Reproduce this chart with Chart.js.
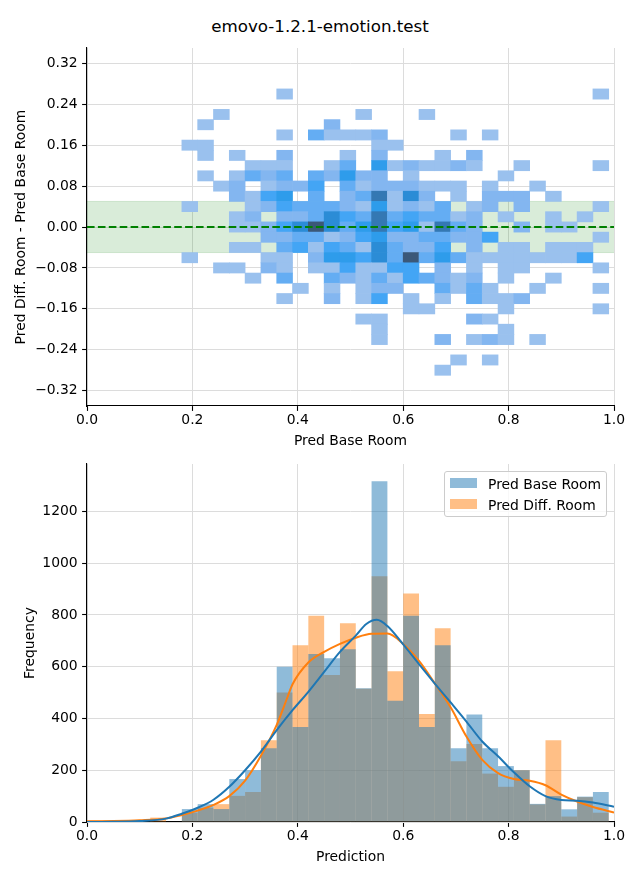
<!DOCTYPE html>
<html>
<head>
<meta charset="utf-8">
<script src="https://cdn.jsdelivr.net/npm/chart.js@4.4.0/dist/chart.umd.min.js"></script>
<style>
html,body{margin:0;padding:0;background:#fff;}
body{width:640px;height:880px;position:relative;overflow:hidden;font-family:"DejaVu Sans",sans-serif;color:#000;}
#title{position:absolute;left:0;top:16px;width:640px;text-align:center;font-size:16.7px;line-height:20px;}
#c1{position:absolute;left:0;top:0;}
#c2{position:absolute;left:0;top:450px;}
#legend{position:absolute;left:444px;top:471px;width:163px;height:46px;box-sizing:border-box;border:1px solid #cccccc;border-radius:3px;background:rgba(255,255,255,0.8);font-size:13.9px;}
.sw{position:absolute;left:5px;width:27px;height:10px;}
.lt{position:absolute;left:43px;line-height:16px;white-space:nowrap;}
</style>
</head>
<body>
<div id="title">emovo-1.2.1-emotion.test</div>
<canvas id="c1" width="640" height="450"></canvas>
<canvas id="c2" width="640" height="430"></canvas>
<div id="legend">
  <div class="sw" style="top:6px;background:rgba(31,119,180,0.5)"></div>
  <div class="lt" style="top:4px">Pred Base Room</div>
  <div class="sw" style="top:27px;background:rgba(255,127,14,0.5)"></div>
  <div class="lt" style="top:24.5px">Pred Diff. Room</div>
</div>
<script>
// ---------- DATA ----------
const xTicks = [0, 0.2, 0.4, 0.6, 0.8, 1.0];
const heatYTicks = [-0.32, -0.24, -0.16, -0.08, 0, 0.08, 0.16, 0.24, 0.32];
const freqTicks = [0, 200, 400, 600, 800, 1000, 1200];

// 2D histogram: column centers (Pred Base Room), row centers (difference), counts level per cell
const heatXCenters = [0.195,0.225,0.255,0.285,0.315,0.345,0.375,0.405,0.435,0.465,0.495,0.525,0.555,0.585,0.615,0.645,0.675,0.705,0.735,0.765,0.795,0.825,0.855,0.885,0.915,0.945,0.975];
const heatYCenters = [0.26,0.24,0.22,0.20,0.18,0.16,0.14,0.12,0.10,0.08,0.06,0.04,0.02,0.00,-0.02,-0.04,-0.06,-0.08,-0.10,-0.12,-0.14,-0.16,-0.18,-0.20,-0.22,-0.24,-0.26,-0.28];
const heatYBinHeight = 0.02;
const heatCounts = [
  [0,0,0,0,0,0,1,0,0,0,0,0,0,0,0,0,0,0,0,0,0,0,0,0,0,0,1],
  [0,0,0,0,0,0,0,0,0,0,0,0,0,0,0,0,0,0,0,0,0,0,0,0,0,0,0],
  [0,0,1,0,0,0,0,0,0,0,0,1,0,0,0,1,0,0,0,0,0,0,0,0,0,0,0],
  [0,1,0,0,0,0,0,0,0,2,0,0,0,0,0,0,0,0,0,0,0,0,0,0,0,0,0],
  [0,0,0,0,0,0,1,0,3,1,1,1,2,0,0,0,0,1,0,1,0,0,0,0,0,0,0],
  [1,1,0,0,0,0,0,0,0,0,0,0,1,1,0,0,0,0,0,0,0,0,0,0,0,0,0],
  [0,1,0,1,0,0,2,0,0,0,1,0,2,0,0,0,1,0,2,0,0,0,0,0,0,0,0],
  [0,0,0,0,1,1,1,0,0,1,3,0,5,1,2,1,1,2,1,0,0,1,0,0,0,0,1],
  [0,1,0,1,3,2,3,0,3,2,5,2,2,0,1,0,0,0,0,0,1,0,0,0,0,0,0],
  [0,0,1,2,0,1,2,2,4,0,3,1,2,2,2,1,1,1,0,1,0,0,1,0,0,0,0],
  [0,0,0,2,1,4,5,0,3,0,2,3,7,1,6,2,0,1,0,2,2,2,0,1,0,0,0],
  [1,0,0,0,1,2,4,3,3,3,2,1,5,1,2,1,3,0,1,2,0,2,0,0,0,0,1],
  [0,0,0,1,2,0,2,2,3,6,4,3,7,3,4,3,3,1,2,0,1,0,0,1,0,1,0],
  [0,0,0,1,1,2,4,6,8,6,3,5,7,4,5,1,7,3,2,0,0,2,0,1,1,0,0],
  [0,0,0,0,0,2,2,3,3,1,2,4,5,2,2,3,3,2,2,4,0,0,0,0,0,0,1],
  [0,0,0,1,1,0,3,4,1,4,3,1,6,3,2,2,4,0,2,0,1,1,0,1,1,1,0],
  [1,0,0,0,0,1,1,0,2,5,5,4,6,3,8,3,5,3,1,1,1,1,1,1,1,4,0],
  [0,0,1,1,0,2,1,0,1,1,4,1,1,4,4,0,2,0,1,0,1,1,0,0,0,0,1],
  [0,0,0,0,1,0,3,0,0,3,2,1,3,1,4,3,2,1,2,0,1,0,0,1,0,0,0],
  [0,0,0,0,0,0,0,1,0,1,0,1,2,2,0,0,3,1,3,1,0,0,1,0,0,0,1],
  [0,0,0,0,0,0,1,0,0,2,0,1,4,0,1,0,1,0,3,1,1,2,0,0,0,0,0],
  [0,0,0,0,0,0,0,0,0,0,0,0,0,0,1,1,0,0,0,0,1,0,0,0,0,0,1],
  [0,0,0,0,0,0,0,0,0,0,0,1,1,0,0,0,0,0,2,1,0,0,0,0,0,0,0],
  [0,0,0,0,0,0,0,0,0,0,0,0,1,0,0,0,0,0,0,0,1,0,0,0,0,0,0],
  [0,0,0,0,0,0,0,0,0,0,0,0,1,0,0,0,2,0,1,2,1,0,1,0,0,0,0],
  [0,0,0,0,0,0,0,0,0,0,0,0,0,0,0,0,0,0,0,0,0,0,0,0,0,0,0],
  [0,0,0,0,0,0,0,0,0,0,0,0,0,0,0,0,0,1,0,1,0,0,0,0,0,0,0],
  [0,0,0,0,0,0,0,0,0,0,0,0,0,0,0,0,1,0,0,0,0,0,0,0,0,0,0]
];
const bandHalfWidth = 0.05;

// 1D histograms (shared bins of width 0.03 from 0 to 0.99)
const histBinCenters = [0.015,0.045,0.075,0.105,0.135,0.165,0.195,0.225,0.255,0.285,0.315,0.345,0.375,0.405,0.435,0.465,0.495,0.525,0.555,0.585,0.615,0.645,0.675,0.705,0.735,0.765,0.795,0.825,0.855,0.885,0.915,0.945,0.975];
const histBase = [0,0,0,0,0,0,50,69,50,166,200,285,600,367,649,633,667,517,1316,468,797,367,683,285,415,285,216,200,70,100,49,98,116];
const histDiff = [6,6,2,2,17,2,36,55,69,101,116,316,500,683,797,568,768,515,949,582,883,417,748,235,301,187,136,200,68,316,21,96,36];

// KDE curves
const kdeBaseX = [0,0.05,0.10,0.15,0.18,0.21,0.24,0.27,0.30,0.33,0.36,0.39,0.42,0.45,0.48,0.51,0.53,0.55,0.57,0.60,0.63,0.66,0.69,0.72,0.75,0.78,0.81,0.84,0.87,0.90,0.93,0.96,1.00];
const kdeBaseY = [0,1,4,13,32,55,86,136,200,272,355,432,503,580,657,720,765,781,757,686,610,535,462,388,311,254,192,138,100,85,82,75,59];
const kdeDiffX = [0,0.05,0.10,0.15,0.18,0.21,0.24,0.27,0.30,0.33,0.36,0.38,0.39,0.42,0.45,0.48,0.51,0.54,0.57,0.60,0.63,0.66,0.69,0.72,0.75,0.78,0.81,0.84,0.87,0.90,0.93,0.96,1.00];
const kdeDiffY = [3,4,7,14,27,44,66,100,160,256,375,480,532,616,657,688,712,727,728,688,622,535,443,330,240,189,166,159,142,106,79,58,37];

// ---------- STYLE ----------
const heatPalette = [null,'#9ac1ee','#83b6f0','#64adf3','#43a5f5','#2e9ceb','#2b8cd6','#3478b3','#3b5878'];
const FONT = {family: 'DejaVu Sans', size: 13.9};
Chart.defaults.font.family = 'DejaVu Sans';
Chart.defaults.font.size = 13.9;
Chart.defaults.color = '#000';

const minus = v => (v < 0 ? '\u2212' : '') + Math.abs(v);
function gridOpts() {
  return {color: '#dcdcdc', lineWidth: 1, tickColor: '#000', tickLength: 4.9, tickWidth: 1.1, offset: false};
}
const border = {display: true, color: '#000', width: 1.1};

// ---------- TOP CHART ----------
const cells = [], cellColors = [];
heatCounts.forEach((row, r) => row.forEach((n, k) => {
  if (n > 0) {
    const c = heatYCenters[r];
    cells.push({x: heatXCenters[k], y: [c - heatYBinHeight / 2, c + heatYBinHeight / 2]});
    cellColors.push(heatPalette[n]);
  }
}));

new Chart(document.getElementById('c1'), {
  type: 'bar',
  data: {
    datasets: [
      {type: 'line', label: 'zero', data: [{x: 0, y: 0}, {x: 1, y: 0}], borderColor: '#008000', borderWidth: 2,
       borderDash: [7.6, 3.3], pointRadius: 0, fill: false},
      {type: 'bar', label: 'cells', data: cells, backgroundColor: cellColors, borderWidth: 0,
       categoryPercentage: 1, barPercentage: 1, grouped: false},
      {type: 'line', label: 'bandTop', data: [{x: 0, y: bandHalfWidth}, {x: 1, y: bandHalfWidth}],
       borderColor: 'rgba(0,128,0,0.15)', borderWidth: 1, backgroundColor: 'rgba(0,128,0,0.15)', fill: '+1', pointRadius: 0},
      {type: 'line', label: 'bandBottom', data: [{x: 0, y: -bandHalfWidth}, {x: 1, y: -bandHalfWidth}],
       borderColor: 'rgba(0,128,0,0.15)', borderWidth: 1, fill: false, pointRadius: 0}
    ]
  },
  options: {
    responsive: false, animation: false, devicePixelRatio: 1, events: [],
    layout: {padding: {left: 0, right: 26, top: 48, bottom: 0}},
    plugins: {legend: {display: false}, tooltip: {enabled: false}},
    scales: {
      x: {type: 'linear', min: 0, max: 1, offset: false, grid: gridOpts(), border,
          afterBuildTicks: s => { s.ticks = xTicks.map(v => ({value: v})); },
          ticks: {padding: 1.5, maxRotation: 0, autoSkip: false, font: FONT, callback: v => v.toFixed(1)},
          title: {display: true, text: 'Pred Base Room', font: FONT, padding: {top: 0, bottom: 0.7}},
          afterFit: s => { s.height = 44; }},
      y: {type: 'linear', min: -0.35, max: 0.35, grid: gridOpts(), border,
          afterBuildTicks: s => { s.ticks = heatYTicks.map(v => ({value: v})); },
          ticks: {padding: 4.4, autoSkip: false, font: FONT, callback: v => (v < 0 ? '\u2212' : '') + Math.abs(v).toFixed(2)},
          title: {display: true, text: 'Pred Diff. Room - Pred Base Room', font: FONT, padding: {top: 12.7, bottom: 0}},
          afterFit: s => { s.width = 87; }}
    }
  }
});

// ---------- BOTTOM CHART ----------
const baseBars = histBinCenters.map((x, i) => ({x, y: histBase[i]}));
const diffBars = histBinCenters.map((x, i) => ({x, y: histDiff[i]}));
const baseKde = kdeBaseX.map((x, i) => ({x, y: kdeBaseY[i]}));
const diffKde = kdeDiffX.map((x, i) => ({x, y: kdeDiffY[i]}));

new Chart(document.getElementById('c2'), {
  type: 'bar',
  data: {
    datasets: [
      {type: 'line', label: 'KDE Pred Base Room', data: baseKde, borderColor: '#1f77b4', borderWidth: 2,
       pointRadius: 0, fill: false, cubicInterpolationMode: 'monotone'},
      {type: 'line', label: 'KDE Pred Diff. Room', data: diffKde, borderColor: '#ff7f0e', borderWidth: 2,
       pointRadius: 0, fill: false, cubicInterpolationMode: 'monotone'},
      {type: 'bar', label: 'Pred Base Room', data: baseBars, backgroundColor: 'rgba(31,119,180,0.5)',
       borderWidth: 0, inflateAmount: 0, categoryPercentage: 1, barPercentage: 1, grouped: false},
      {type: 'bar', label: 'Pred Diff. Room', data: diffBars, backgroundColor: 'rgba(255,127,14,0.5)',
       borderWidth: 0, inflateAmount: 0, categoryPercentage: 1, barPercentage: 1, grouped: false}
    ]
  },
  options: {
    responsive: false, animation: false, devicePixelRatio: 1, events: [],
    layout: {padding: {left: 0, right: 26, top: 14, bottom: 0}},
    plugins: {legend: {display: false}, tooltip: {enabled: false}},
    scales: {
      x: {type: 'linear', min: 0, max: 1, offset: false, grid: gridOpts(), border,
          afterBuildTicks: s => { s.ticks = xTicks.map(v => ({value: v})); },
          ticks: {padding: 1.5, maxRotation: 0, autoSkip: false, font: FONT, callback: v => v.toFixed(1)},
          title: {display: true, text: 'Prediction', font: FONT, padding: {top: 0, bottom: 14.7}},
          afterFit: s => { s.height = 58; }},
      y: {type: 'linear', min: 0, max: 1383, grid: gridOpts(), border,
          afterBuildTicks: s => { s.ticks = freqTicks.map(v => ({value: v})); },
          ticks: {padding: 4.4, autoSkip: false, font: FONT, callback: v => String(v)},
          title: {display: true, text: 'Frequency', font: FONT, padding: {top: 21.7, bottom: 0}},
          afterFit: s => { s.width = 87; }}
    }
  }
});
</script>
</body>
</html>
